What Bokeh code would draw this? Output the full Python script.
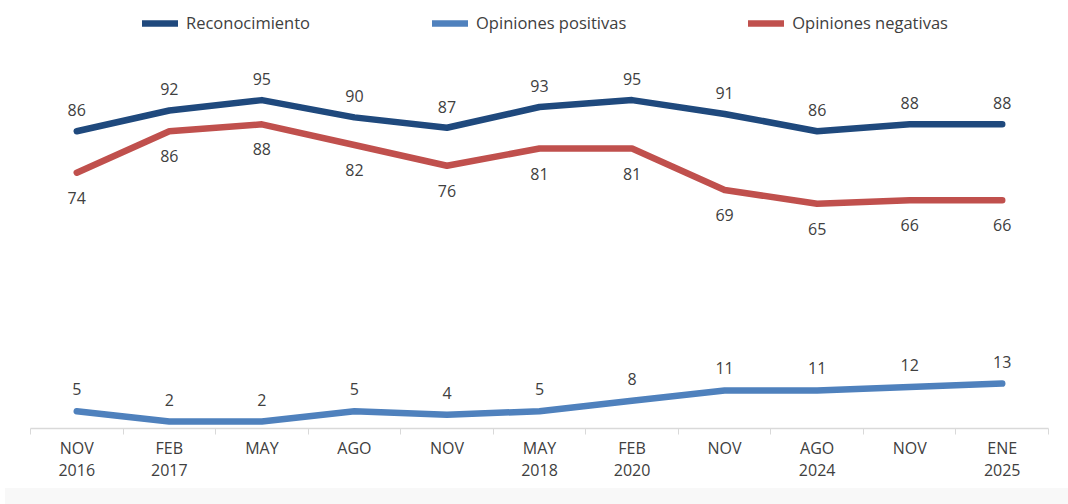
from bokeh.plotting import figure
from bokeh.models import ColumnDataSource, FixedTicker, Legend, LegendItem, Range1d, Div
from bokeh.layouts import column
from bokeh.embed import file_html
from bokeh.resources import INLINE
from bokeh.core.properties import value

periods = ["NOV\n2016", "FEB\n2017", "MAY", "AGO", "NOV", "MAY\n2018",
           "FEB\n2020", "NOV", "AGO\n2024", "NOV", "ENE\n2025"]
reconocimiento = [86, 92, 95, 90, 87, 93, 95, 91, 86, 88, 88]
positivas = [5, 2, 2, 5, 4, 5, 8, 11, 11, 12, 13]
negativas = [74, 86, 88, 82, 76, 81, 81, 69, 65, 66, 66]

names = ["Reconocimiento", "Opiniones positivas", "Opiniones negativas"]
colors = ["#1F497D", "#4F81BD", "#C0504D"]

FONT = "Open Sans"
TXT = "#404040"

xs = [i + 0.5 for i in range(len(periods))]
src = ColumnDataSource(dict(
    x=xs,
    rec=reconocimiento, pos=positivas, neg=negativas,
    rec_t=[str(v) for v in reconocimiento],
    pos_t=[str(v) for v in positivas],
    neg_t=[str(v) for v in negativas],
))

p = figure(frame_width=1018, frame_height=420, output_backend="svg",
           toolbar_location=None, x_range=Range1d(0, len(periods)),
           y_range=Range1d(0, 121.5),
           min_border_left=30, min_border_right=18, min_border_top=8,
           min_border_bottom=50)
p.outline_line_color = None
p.xgrid.visible = False
p.ygrid.visible = False
p.yaxis.visible = False
p.background_fill_color = "white"
p.border_fill_color = "white"

LW = 6.5
r_rec = p.line("x", "rec", source=src, line_color=colors[0], line_width=LW,
               line_join="round", line_cap="round")
r_pos = p.line("x", "pos", source=src, line_color=colors[1], line_width=LW,
               line_join="round", line_cap="round")
r_neg = p.line("x", "neg", source=src, line_color=colors[2], line_width=LW,
               line_join="round", line_cap="round")

common = dict(text_font=value(FONT), text_font_size="16px", text_color=TXT,
              text_align="center", text_baseline="middle")
p.text("x", "rec", text="rec_t", source=src, y_offset=-21, **common)
p.text("x", "pos", text="pos_t", source=src, y_offset=-22, **common)
p.text("x", "neg", text="neg_t", source=src, y_offset=25, **common)

ax = p.xaxis[0]
ax.ticker = FixedTicker(ticks=xs, minor_ticks=list(range(len(periods) + 1)))
ax.major_label_overrides = {x: lab for x, lab in zip(xs, periods)}
ax.major_tick_line_color = None
ax.minor_tick_line_color = "#D9D9D9"
ax.minor_tick_out = 6
ax.minor_tick_in = 0
ax.axis_line_color = "#D9D9D9"
ax.axis_line_width = 1.5
ax.major_label_standoff = 2
ax.major_label_text_font = FONT
ax.major_label_text_font_size = "16px"
ax.major_label_text_color = TXT
ax.major_label_text_line_height = 1.0

legend = Legend(items=[LegendItem(label=n, renderers=[r]) for n, r in
                       zip(names, [r_rec, r_pos, r_neg])],
                orientation="horizontal", location=(112, 394),
                glyph_width=36, glyph_height=20, label_standoff=8,
                spacing=122, padding=6, margin=0,
                label_text_font=FONT, label_text_font_size="16.5px",
                label_text_color=TXT, border_line_color=None,
                background_fill_alpha=0)
p.add_layout(legend, "center")

band = Div(width=1066, height=24, styles={"background-color": "#F8F8F8"})
layout = column(p, band, spacing=0)

open("out.html", "w").write(file_html(layout, INLINE))
